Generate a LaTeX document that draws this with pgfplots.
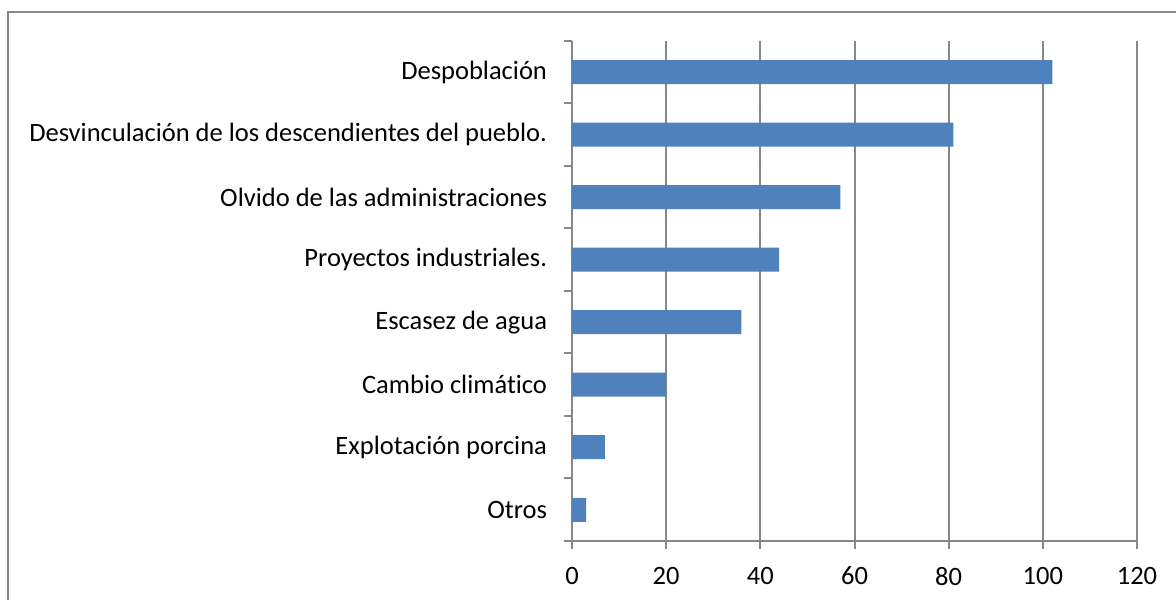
\documentclass[border=0pt]{standalone}
\usepackage{pgfplots}
\pgfplotsset{compat=1.18}
\usepackage{fontspec}
\setmainfont{Carlito}[Ligatures=NoCommon]
\definecolor{barblue}{HTML}{4F81BD}
\definecolor{gridgray}{HTML}{878787}
\begin{document}
\fontsize{26.5pt}{30pt}\selectfont
\begin{tikzpicture}[x=1pt,y=1pt]
\useasboundingbox (0,0) rectangle (1176,600);
\begin{scope}
\clip (0,0) rectangle (1176,600);
\draw[gridgray, line width=2pt] (8,-20) rectangle (1200,588);
\end{scope}
\begin{axis}[
  at={(572pt,59pt)}, anchor=south west,
  scale only axis, width=565pt, height=500pt,
  xbar, bar width=24pt,
  xmin=0, xmax=120, ymin=-0.5, ymax=7.5,
  axis x line*=bottom, axis y line*=left,
  axis line style={gridgray, line width=2pt, -},
  xtick={0,20,...,120},
  ytick={0,...,7},
  yticklabels={Otros, Explotación porcina, Cambio climático, Escasez de agua, Proyectos industriales., Olvido de las administraciones, Desvinculación de los descendientes del pueblo., Despoblación},
  minor ytick={-0.5,0.5,...,7.5},
  tick align=outside,
  major tick length=8pt, minor tick length=8pt,
  major y tick style={draw=none},
  major x tick style={gridgray, line width=2pt},
  minor y tick style={gridgray, line width=2pt},
  xmajorgrids, major grid style={gridgray, line width=2pt},
  ticklabel style={font=\fontsize{26.5pt}{30pt}\selectfont, text=black},
  /pgf/number format/assume math mode=true,
  yticklabel style={anchor=east, xshift=-8pt},
  xticklabel style={yshift=-9pt},
]
\addplot[fill=barblue, draw=none] coordinates {
  (3,0) (7,1) (20,2) (36,3) (44,4) (57,5) (81,6) (102,7)
};
\end{axis}
\end{tikzpicture}
\end{document}
